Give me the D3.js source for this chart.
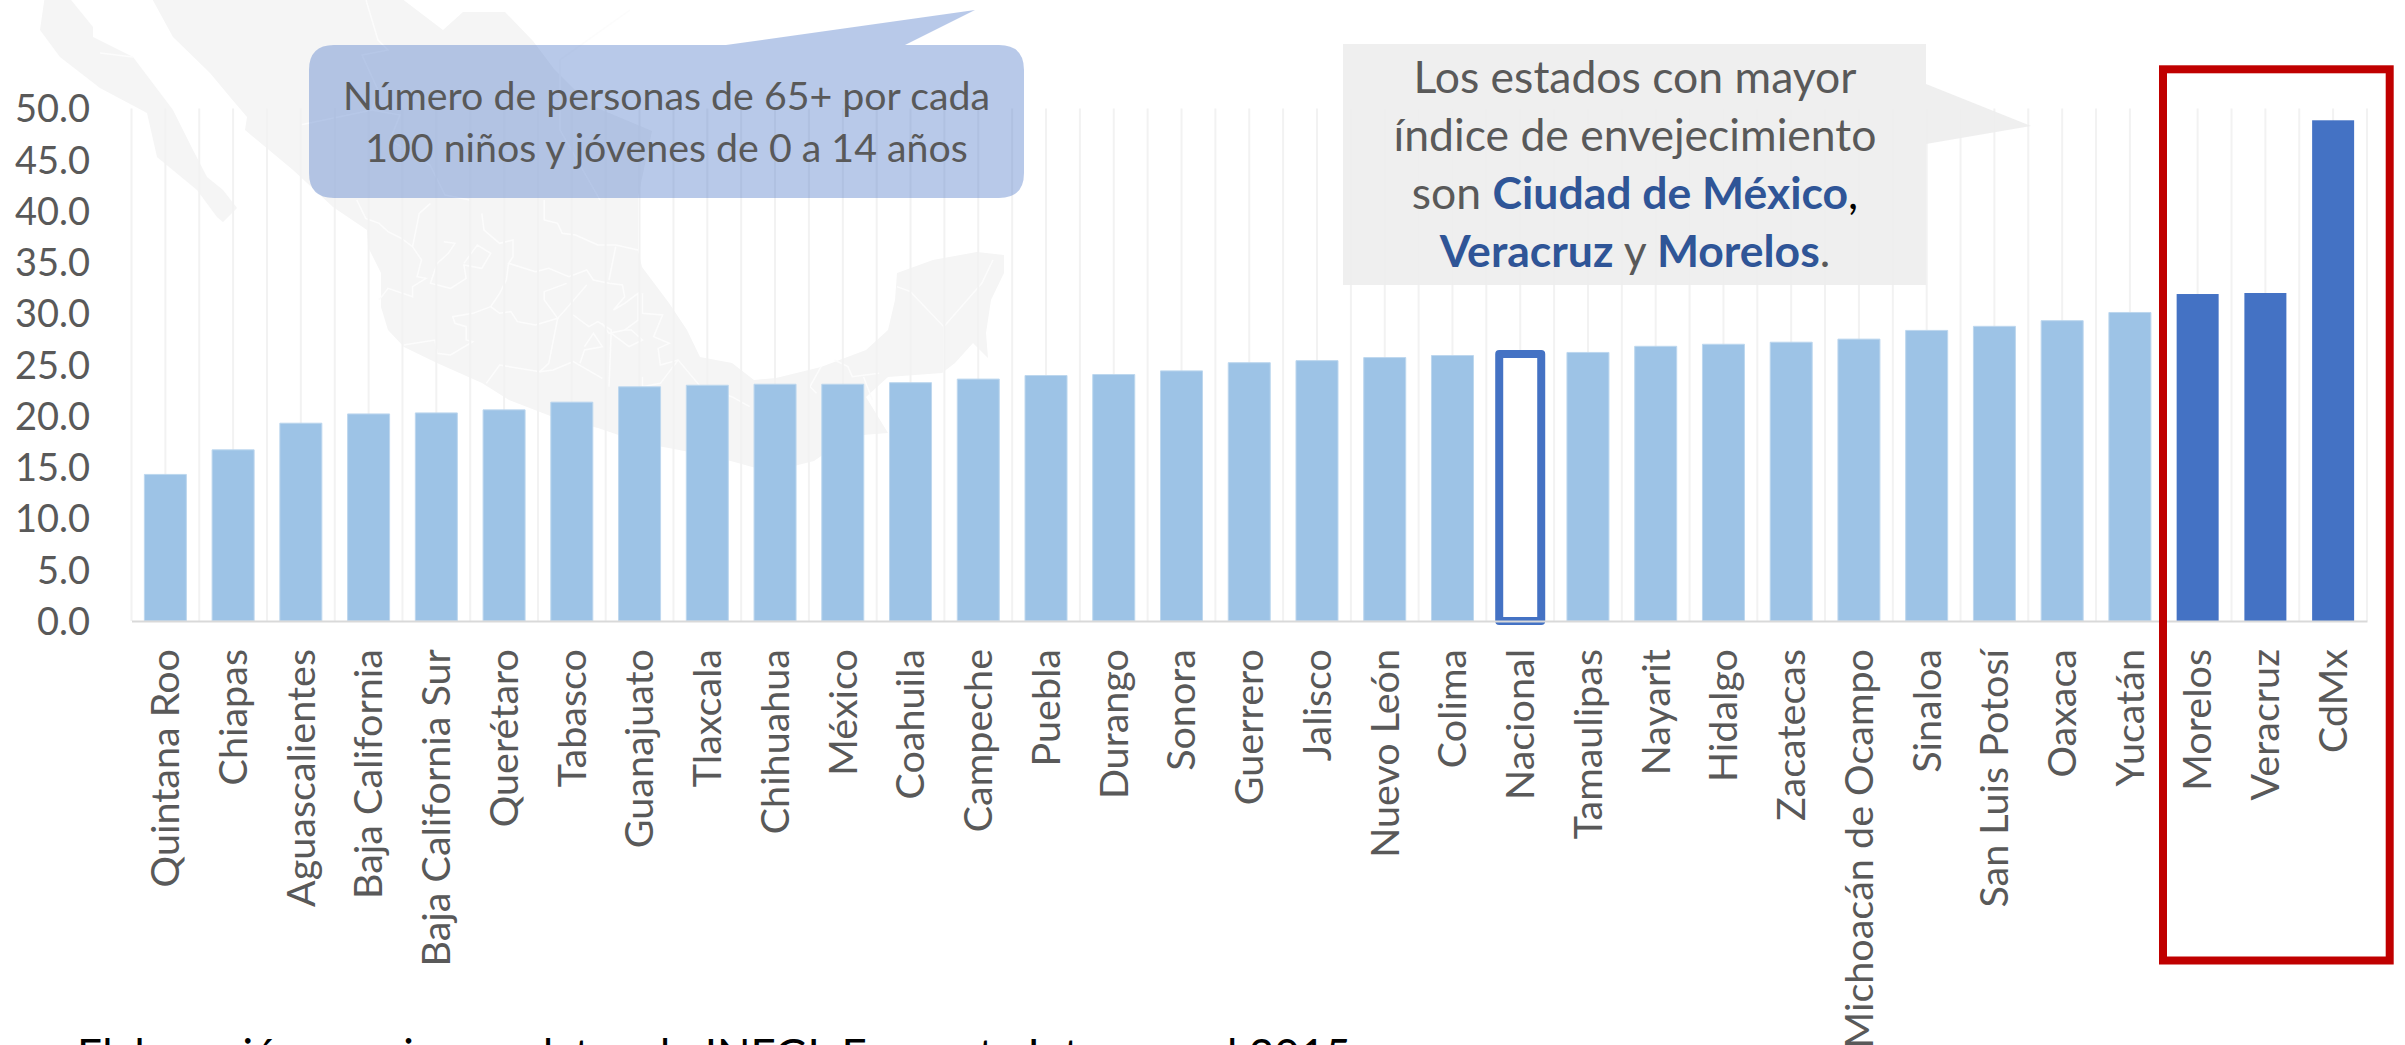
<!DOCTYPE html>
<html><head><meta charset="utf-8">
<script src="https://cdn.jsdelivr.net/npm/d3@7/dist/d3.min.js"></script>
<style>html,body{margin:0;padding:0;background:#fff;overflow:hidden}svg{display:block}text{font-family:Lato,"Open Sans",sans-serif}</style>
</head><body><svg id="c" width="2405" height="1045"></svg>
<script>
const categories=["Quintana Roo","Chiapas","Aguascalientes","Baja California","Baja California Sur","Querétaro","Tabasco","Guanajuato","Tlaxcala","Chihuahua","México","Coahuila","Campeche","Puebla","Durango","Sonora","Guerrero","Jalisco","Nuevo León","Colima","Nacional","Tamaulipas","Nayarit","Hidalgo","Zacatecas","Michoacán de Ocampo","Sinaloa","San Luis Potosí","Oaxaca","Yucatán","Morelos","Veracruz","CdMx"];
const values=[14.3,16.7,19.3,20.2,20.3,20.6,21.35,22.85,23.0,23.1,23.1,23.25,23.6,23.95,24.05,24.4,25.2,25.4,25.7,25.9,26.05,26.2,26.8,27.0,27.2,27.5,28.35,28.75,29.3,30.1,31.9,32.0,48.85];
const highlighted=["Morelos","Veracruz","CdMx"];
const national="Nacional";
const yTicks=[0,5,10,15,20,25,30,35,40,45,50];
const callout1=["Número de personas de 65+ por cada","100 niños y jóvenes de 0 a 14 años"];
const source="Elaboración propia con datos de INEGI. Encuesta Intercensal 2015.";

const svg=d3.select("#c");
const x=d3.scaleBand().domain(categories).range([131.5,2367]).paddingInner(0.38).paddingOuter(0.19);
const y=d3.scaleLinear().domain([0,50]).range([621,108.5]);
const line=d3.line();
const z8=p=>[330+p[0]/2.24,190+p[1]/3];

// Map backdrop (decorative silhouette, native px)
const mapG=svg.append("g");
const outlines=[
 [[67,-5],[93,27],[93,37],[133,57],[173,110],[193,150],[207,177],[223,190],[237,208],[223,222],[217,217],[197,190],[157,157],[147,113],[100,88],[60,57],[40,30],[45,-5]],
 [[150,-5],[173,37],[210,73],[230,97],[247,117],[245,130],[293,170],[333,207],[367,230],[368,247],[381,273],[381,307],[388,330],[404,347],[437,363],[482,383],[509,400],[553,417],[598,428],[642,443],[674,449],[720,458],[770,472],[814,461],[850,436],[888,433],[866,397],[888,377],[942,373],[955,363],[973,343],[988,358],[986,333],[991,300],[1004,273],[1004,255],[977,252],[933,260],[897,273],[895,300],[888,330],[866,350],[821,367],[776,378],[754,380],[732,363],[700,357],[687,330],[669,303],[642,267],[638,250],[638,197],[652,131],[590,105],[554,69],[533,41],[505,12],[463,12],[443,30],[397,-5]]
];
mapG.selectAll("path.o").data(outlines).join("path").attr("class","o").attr("d",d=>line(d)+"Z").attr("fill","#f5f5f5");
const borders=[
 [[60,30],[80,85],[110,100],[130,125],[160,145],[185,170],[205,210],[195,260],[215,265],[185,290],[185,320],[130,295],[110,330]],
 [[225,40],[200,70],[185,170]],
 [[340,70],[345,120],[380,160],[410,150],[410,200],[400,220],[460,245],[490,235],[535,260],[575,240],[590,270],[625,280],[655,285],[660,320],[635,360],[660,340],[690,310],[690,390],[660,420],[625,430],[610,400]],
 [[480,30],[480,90],[510,100],[520,130],[550,135],[600,165],[640,165],[690,180]],
 [[640,170],[625,270]],
 [[300,220],[330,165],[360,190],[340,235],[300,225],[305,265],[270,295],[225,280],[240,220],[265,190],[280,160],[255,155]],
 [[360,350],[320,370],[275,380],[280,400],[305,410],[305,450],[320,455],[270,495],[240,490],[235,450],[165,465]],
 [[360,350],[380,310],[395,270],[400,220]],
 [[360,350],[380,370],[405,365],[420,395],[460,405],[510,385],[480,330],[480,305],[530,280]],
 [[510,385],[490,520],[470,545],[380,525],[350,580]],
 [[510,385],[540,340],[575,285]],
 [[545,375],[580,410],[600,395],[630,420],[625,590]],
 [[470,545],[500,540],[545,515],[610,565]],
 [[570,470],[590,430],[610,470],[570,480],[560,520]],
 [[630,430],[670,470],[700,450],[675,420],[660,420]],
 [[700,310],[700,370],[745,375],[725,440],[760,460],[735,475],[740,525],[780,510],[830,590],[900,620],[940,650]],
 [[700,560],[700,590],[740,580],[780,510]],
 [[1270,290],[1300,305],[1375,410],[1460,280],[1485,210]],
 [[1375,410],[1375,550]],
 [[1100,530],[1075,590],[1090,610]],
 [[1130,510],[1160,530],[1170,560],[1230,550]],
 [[1195,560],[1215,630]]
];
mapG.selectAll("path.b").data(borders).join("path").attr("class","b").attr("d",d=>line(d.map(z8))).attr("fill","none").attr("stroke","#fcfcfc").attr("stroke-width",1.5);
const topBorders=[[[366,0],[378,40],[388,50],[362,55],[378,90],[372,110],[300,125]],[[630,10],[560,60],[560,130],[600,200]],[[372,110],[400,115],[390,140],[430,165],[445,195],[470,200]],[[133,57],[100,53]]];
mapG.selectAll("path.t").data(topBorders).join("path").attr("class","t").attr("d",line).attr("fill","none").attr("stroke","#fcfcfc").attr("stroke-width",1.5);

// vertical gridlines at each category centre and boundary
const step=x.step();
const gridIdx=d3.range(0,categories.length*2+1);
svg.append("g").selectAll("line").data(gridIdx).join("line")
 .attr("x1",i=>x.range()[0]+i*step/2).attr("x2",i=>x.range()[0]+i*step/2)
 .attr("y1",y(50)).attr("y2",y(0)).attr("stroke","#f2f2f2").attr("stroke-width",2);

// bars
svg.append("g").selectAll("rect").data(categories.map((c,i)=>({c,v:values[i]}))).join("rect")
 .attr("x",d=>x(d.c)).attr("width",x.bandwidth()).attr("y",d=>y(d.v)).attr("height",d=>y(0)-y(d.v))
 .attr("fill",d=>d.c===national?"#fff":highlighted.includes(d.c)?"#4472c4":"#9dc3e6")
 .attr("stroke",d=>d.c===national?"#4472c4":highlighted.includes(d.c)?"none":"#bdd7ee")
 .attr("stroke-width",d=>d.c===national?8:1).attr("stroke-linejoin","round");

// axis line
const axisB=d3.axisBottom(x).tickSize(0).tickPadding(0);
const gx=svg.append("g").attr("transform",`translate(0,${y(0)})`).call(axisB);
gx.select(".domain").attr("stroke","#d9d9d9").attr("stroke-width",2);
gx.selectAll("text").attr("text-anchor","end").attr("y",null)
 .attr("transform","translate(0,28) rotate(-90)").attr("dx",0).attr("dy","0.35em")
 .attr("font-size",39.5).attr("fill","#595959").attr("font-family","Lato");

// y axis
const gy=svg.append("g").attr("transform","translate(90,0)").call(d3.axisLeft(y).tickValues(yTicks).tickFormat(d3.format(".1f")).tickSize(0).tickPadding(0));
gy.select(".domain").remove();
gy.selectAll("text").attr("font-size",38).attr("fill","#595959").attr("font-family","Lato").attr("dy","0.35em");

// callout 1
svg.append("path").attr("fill","#4472c4").attr("fill-opacity",0.38)
 .attr("d",()=>{const p=d3.path();const l=309,r=1024,t=45,b=198,q=25;
  p.moveTo(l+q,t);p.lineTo(726,t);p.lineTo(975,10);p.lineTo(905,t);p.lineTo(r-q,t);p.quadraticCurveTo(r,t,r,t+q);p.lineTo(r,b-q);p.quadraticCurveTo(r,b,r-q,b);p.lineTo(l+q,b);p.quadraticCurveTo(l,b,l,b-q);p.lineTo(l,t+q);p.quadraticCurveTo(l,t,l+q,t);p.closePath();return p.toString();});
svg.append("g").selectAll("text").data(callout1).join("text").attr("x",666.5).attr("y",(d,i)=>110+i*52)
 .attr("text-anchor","middle").attr("font-size",39.3).attr("fill","#595959").text(d=>d);

// callout 2
svg.append("path").attr("fill","#ededed").attr("fill-opacity",0.9)
 .attr("d",()=>{const p=d3.path();p.moveTo(1343,44);p.lineTo(1926,44);p.lineTo(1926,84);p.lineTo(2031,126);p.lineTo(1926,144);p.lineTo(1926,285);p.lineTo(1343,285);p.closePath();return p.toString();});
const c2=svg.append("g").attr("text-anchor","middle").attr("font-size",44.5).attr("fill","#595959");
c2.append("text").attr("x",1635).attr("y",93).text("Los estados con mayor");
c2.append("text").attr("x",1635).attr("y",151).text("índice de envejecimiento");
const t3=c2.append("text").attr("x",1635).attr("y",209);
t3.append("tspan").text("son ");
t3.append("tspan").attr("font-weight",700).attr("fill","#2f5597").text("Ciudad de México");
t3.append("tspan").attr("fill","#000").text(",");
const t4=c2.append("text").attr("x",1635).attr("y",267);
t4.append("tspan").attr("font-weight",700).attr("fill","#2f5597").text("Veracruz");
t4.append("tspan").text(" y ");
t4.append("tspan").attr("font-weight",700).attr("fill","#2f5597").text("Morelos");
t4.append("tspan").text(".");

// red box
svg.append("rect").attr("x",2163).attr("y",69.3).attr("width",226.7).attr("height",891.2).attr("fill","none").attr("stroke","#c00000").attr("stroke-width",8);

// source
svg.append("text").attr("x",77).attr("y",1071).attr("font-size",44).attr("fill","#000").text(source);
</script></body></html>
